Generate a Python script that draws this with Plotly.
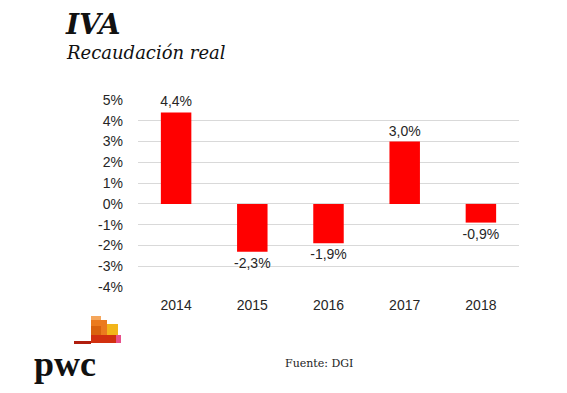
import plotly.graph_objects as go

years = ["2014", "2015", "2016", "2017", "2018"]
values = [4.4, -2.3, -1.9, 3.0, -0.9]
y_ticks = [-4, -3, -2, -1, 0, 1, 2, 3, 4, 5]
y_tick_labels = [f"{t}%" for t in y_ticks]
bar_labels = [f"{v:.1f}%".replace(".", ",") for v in values]

fig = go.Figure()
fig.add_trace(go.Bar(
    x=years, y=values,
    marker=dict(color="#FF0000", line=dict(width=0)),
    text=bar_labels, textposition="outside", cliponaxis=False,
    constraintext="none",
    textfont=dict(family="Arial, Liberation Sans", size=14, color="#262626"),
))

# PwC logo blocks (decoration), screen px -> paper coords
PX0, PY1, PW, PH = 138, 287, 381, 187
blocks = [
    (91, 316, 101, 321, "#F5A65B"),
    (91, 320, 107, 337, "#EB7A1E"),
    (91, 326, 101, 337, "#D9620E"),
    (107, 324, 118, 337, "#F2B51A"),
    (91, 335, 116, 343, "#D2300F"),
    (116, 335, 121, 343, "#E8508A"),
    (74, 341, 91, 344, "#B01E0E"),
]
shapes = []
for x0, y0, x1, y1, c in blocks:
    shapes.append(dict(type="rect", xref="paper", yref="paper",
                       x0=(x0 - PX0) / PW, x1=(x1 - PX0) / PW,
                       y0=(PY1 - y1) / PH, y1=(PY1 - y0) / PH,
                       fillcolor=c, line=dict(width=0), layer="above"))

def px(x):
    return (x - PX0) / PW

def py(y):
    return (PY1 - y) / PH

fig.update_layout(
    width=559, height=385,
    margin=dict(l=130, r=48, t=92, b=106),
    paper_bgcolor="white", plot_bgcolor="white",
    showlegend=False, bargap=0.6,
    shapes=shapes,
    yaxis=dict(range=[-4, 5], tickvals=y_ticks, ticktext=y_tick_labels,
               showgrid=True, gridcolor="#D9D9D9", gridwidth=1, zeroline=False,
               showline=False, ticks="", ticklabelstandoff=14,
               tickfont=dict(family="Arial, Liberation Sans", size=14, color="#262626")),
    xaxis=dict(showgrid=False, zeroline=False, showline=False, ticks="",
               ticklabelstandoff=8,
               tickfont=dict(family="Arial, Liberation Sans", size=14, color="#262626")),
    annotations=[
        dict(text="<b><i>IVA</i></b>", xref="paper", yref="paper",
             x=px(63), y=py(6), xanchor="left", yanchor="top",
             showarrow=False, font=dict(family="DejaVu Serif", size=28, color="#111111")),
        dict(text="<i>Recaudación real</i>", xref="paper", yref="paper",
             x=px(64), y=py(40), xanchor="left", yanchor="top",
             showarrow=False, font=dict(family="DejaVu Serif", size=18, color="#111111")),
        dict(text="<b>pwc</b>", xref="paper", yref="paper",
             x=px(32), y=py(342), xanchor="left", yanchor="top",
             showarrow=False, font=dict(family="Liberation Serif", size=36, color="#111111")),
        dict(text="Fuente: DGI", xref="paper", yref="paper",
             x=px(283), y=py(355), xanchor="left", yanchor="top",
             showarrow=False, font=dict(family="DejaVu Serif", size=11, color="#222222")),
    ],
)

fig.write_html("out.html")
